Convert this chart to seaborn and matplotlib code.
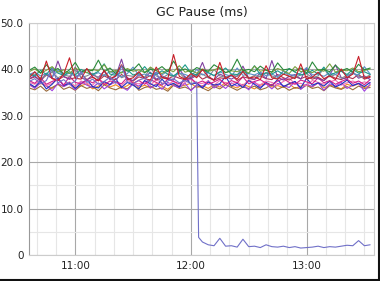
import numpy as np
import pandas as pd
import matplotlib
matplotlib.use("Agg")
import matplotlib.pyplot as plt
from matplotlib.ticker import FixedLocator, FuncFormatter, MultipleLocator
from matplotlib.lines import Line2D
import seaborn as sns

# ---- data -------------------------------------------------------------
title = "GC Pause (ms)"
# minutes after 10:00, one sample every 3 minutes (10:36 .. 13:33)
minutes = list(range(36, 214, 3))

s_red = [38.2, 39.5, 37.8, 41.8, 38.0, 37.6, 39.0, 42.5, 38.1, 37.9, 40.2, 38.4, 37.5, 39.8, 38.0, 38.6, 41.0, 37.8, 38.2, 39.5,
         38.0, 37.7, 40.5, 38.3, 38.0, 43.2, 38.5, 37.9, 39.1, 38.2, 40.0, 38.4, 37.6, 41.5, 38.0, 38.8, 37.9, 39.6, 38.1, 38.4,
         37.8, 40.8, 38.2, 37.9, 39.0, 38.5, 38.0, 41.2, 37.9, 38.3, 39.4, 38.0, 38.6, 37.8, 40.1, 38.2, 39.0, 42.8, 38.1, 38.5]
s_green = [39.8, 40.5, 39.2, 41.0, 39.6, 40.2, 39.0, 39.9, 41.5, 39.4, 40.0, 39.7, 42.0, 39.5, 40.3, 39.1, 40.8, 39.6, 39.9, 41.2,
           39.3, 40.0, 39.8, 40.6, 39.5, 41.8, 39.7, 40.1, 39.4, 40.4, 39.9, 39.6, 41.0, 40.2, 39.3, 39.8, 42.2, 39.7, 40.0, 39.5,
           40.7, 39.8, 39.4, 41.4, 39.9, 40.1, 39.6, 40.3, 39.2, 41.6, 39.8, 40.0, 39.5, 40.9, 39.7, 40.2, 39.4, 41.1, 39.9, 40.3]
s_teal = [39.0, 38.6, 39.8, 38.9, 40.4, 39.2, 38.7, 39.5, 38.8, 40.0, 39.3, 38.9, 39.6, 41.2, 39.0, 38.7, 39.4, 39.9, 38.8, 39.2,
          40.6, 39.1, 38.9, 39.7, 39.0, 38.6, 39.5, 41.0, 39.2, 38.8, 39.9, 39.3, 38.7, 39.4, 40.3, 39.0, 38.9, 39.6, 39.1, 40.8,
          38.8, 39.3, 39.0, 39.7, 38.9, 40.2, 39.4, 38.8, 39.1, 39.8, 39.0, 40.5, 38.7, 39.3, 39.6, 38.9, 40.0, 39.2, 39.5, 38.9]
s_blue = [37.0, 36.2, 37.5, 35.8, 36.8, 38.2, 36.5, 37.1, 35.9, 36.9, 37.8, 36.3, 36.0, 37.4, 36.7, 38.0, 36.1, 37.2, 36.6, 35.8,
          37.6, 36.9, 36.3, 37.9, 36.5, 37.0, 36.2, 38.4, 36.8, 37.1, 36.0, 37.3, 36.6, 36.9, 38.5, 36.4, 37.0, 36.1, 37.6, 36.8,
          35.9, 37.2, 36.5, 37.8, 36.3, 36.9, 37.4, 36.0, 38.1, 36.6, 37.1, 36.4, 37.5, 36.2, 36.8, 37.7, 36.5, 37.0, 36.3, 37.2]
s_purple = [38.0, 38.6, 37.5, 39.2, 38.1, 41.8, 38.4, 37.9, 40.5, 38.2, 37.7, 38.8, 38.3, 39.6, 37.8, 38.5, 42.2, 38.0, 37.6, 38.9,
            38.2, 39.4, 37.9, 38.6, 38.1, 37.7, 40.1, 38.3, 38.0, 38.7, 41.5, 38.2, 37.8, 39.0, 38.4, 37.9, 38.6, 40.7, 38.1, 37.8,
            39.3, 38.0, 41.9, 38.3, 37.7, 38.5, 38.9, 37.9, 40.2, 38.4, 38.0, 37.6, 38.8, 41.0, 38.2, 37.9, 39.5, 38.1, 38.6, 37.8]
s_magenta = [37.6, 37.0, 38.2, 36.8, 37.4, 37.9, 36.6, 38.5, 37.2, 36.9, 37.7, 37.1, 38.0, 36.7, 37.5, 37.3, 36.9, 38.3, 37.0, 37.6,
             36.8, 37.8, 37.2, 36.6, 37.9, 37.4, 36.9, 37.6, 38.1, 37.0, 37.5, 36.8, 37.3, 37.9, 36.7, 37.6, 37.1, 38.4, 36.9, 37.4,
             37.8, 37.0, 36.6, 37.5, 38.0, 37.2, 36.8, 37.7, 37.3, 36.9, 38.2, 37.1, 37.6, 36.8, 37.4, 37.9, 37.0, 37.5, 36.7, 37.8]
s_orange = [36.6, 36.2, 37.0, 36.4, 35.9, 36.8, 36.3, 37.2, 36.0, 36.5, 36.9, 35.8, 36.4, 37.1, 36.2, 36.7, 35.9, 36.5, 37.3, 36.1,
            36.6, 36.0, 36.9, 36.4, 35.7, 36.8, 36.3, 36.6, 37.0, 36.1, 36.5, 35.9, 36.7, 36.2, 37.2, 36.4, 36.0, 36.8, 36.3, 35.8,
            36.6, 37.0, 36.2, 36.5, 36.1, 36.9, 35.9, 36.4, 36.7, 36.2, 37.1, 36.0, 36.6, 36.3, 35.8, 36.8, 36.4, 36.9, 36.1, 36.5]
s_pink = [37.2, 36.8, 37.6, 36.5, 37.0, 37.9, 36.7, 37.3, 36.4, 37.5, 37.0, 36.6, 38.0, 37.1, 36.8, 37.4, 36.5, 37.7, 37.0, 36.9,
          37.3, 36.6, 37.8, 37.1, 36.7, 37.5, 36.4, 37.2, 37.9, 36.8, 37.0, 37.4, 36.6, 37.6, 37.1, 36.9, 37.3, 36.5, 37.8, 37.0,
          36.7, 37.5, 37.2, 36.6, 37.4, 38.1, 36.9, 37.0, 36.5, 37.6, 37.2, 36.8, 37.3, 37.7, 36.6, 37.1, 37.5, 36.9, 37.3, 37.0]
s_brown = [36.0, 35.6, 36.4, 35.3, 36.1, 36.8, 35.7, 36.2, 35.5, 36.5, 35.9, 36.3, 35.4, 36.7, 36.0, 35.6, 36.2, 35.8, 36.9, 35.5,
           36.1, 36.4, 35.7, 36.0, 35.3, 36.6, 35.9, 36.2, 35.6, 36.5, 36.0, 35.4, 36.3, 35.8, 36.7, 36.1, 35.5, 36.2, 35.9, 36.4,
           35.6, 36.0, 36.8, 35.7, 36.3, 35.5, 36.1, 35.8, 36.6, 35.9, 36.2, 35.4, 36.5, 36.0, 35.7, 36.3, 35.6, 36.4, 35.9, 36.1]
s_gray = [38.4, 39.0, 38.1, 38.7, 39.4, 38.2, 38.8, 38.5, 39.9, 38.3, 38.6, 39.2, 38.0, 38.9, 38.4, 39.6, 38.2, 38.7, 38.5, 39.1,
          38.3, 40.4, 38.6, 38.1, 38.9, 38.4, 39.3, 38.0, 38.8, 38.5, 39.0, 38.2, 40.0, 38.6, 38.3, 38.9, 38.5, 39.4, 38.1, 38.7,
          38.4, 39.2, 38.6, 38.0, 39.7, 38.5, 38.3, 38.8, 39.1, 38.2, 38.6, 40.2, 38.4, 38.9, 38.1, 38.7, 39.3, 38.5, 38.2, 38.8]
s_olive = [39.5, 40.1, 39.2, 39.8, 40.6, 39.4, 39.9, 39.1, 40.3, 39.6, 39.3, 40.0, 39.7, 41.0, 39.4, 39.8, 39.2, 40.2, 39.6, 39.9,
           39.3, 40.5, 39.7, 39.1, 40.0, 39.5, 40.8, 39.4, 39.8, 39.2, 40.1, 39.6, 39.9, 40.4, 39.3, 39.7, 39.5, 40.0, 39.2, 40.7,
           39.6, 39.9, 39.4, 40.2, 39.7, 39.1, 40.6, 39.5, 39.8, 39.3, 40.0, 39.6, 41.2, 39.4, 39.9, 39.7, 40.3, 39.5, 39.8, 40.1]
s_violet = [36.8, 35.9, 37.2, 36.5, 35.4, 37.0, 36.3, 36.9, 35.6, 37.4, 36.6, 36.1, 37.1, 35.8, 36.7, 37.3, 36.2, 35.5, 36.9, 36.4,
            37.5, 36.0, 36.8, 35.7, 37.2, 36.5, 36.1, 37.0, 35.4, 36.7, 36.3, 37.6, 36.0, 36.8, 35.9, 37.1, 36.4, 36.7, 35.6, 37.3,
            36.2, 36.9, 35.8, 37.0, 36.5, 36.1, 37.4, 35.7, 36.8, 36.3, 37.1, 35.5, 36.9, 36.4, 37.2, 35.9, 36.6, 37.0, 35.3, 36.8]
s_steel = [38.9, 39.4, 38.6, 39.1, 38.4, 39.8, 38.7, 39.2, 38.5, 39.0, 40.1, 38.8, 39.3, 38.6, 39.6, 38.9, 38.4, 39.1, 40.5, 38.7,
           39.0, 38.5, 39.4, 38.8, 39.7, 38.6, 39.2, 38.9, 38.4, 40.0, 38.8, 39.3, 38.6, 39.5, 38.9, 38.5, 40.3, 38.7, 39.1, 38.8,
           39.4, 38.6, 39.0, 38.4, 39.6, 38.9, 38.7, 39.2, 40.4, 38.8, 39.0, 38.5, 39.3, 38.9, 39.7, 38.6, 39.1, 38.8, 40.6, 39.0]
s_wine = [37.9, 38.4, 37.6, 38.8, 38.1, 37.7, 38.5, 37.9, 38.2, 39.1, 37.8, 38.3, 37.6, 38.6, 38.0, 37.8, 38.9, 38.1, 37.5, 38.4,
          38.0, 38.7, 37.7, 38.2, 37.9, 38.6, 38.1, 37.8, 38.3, 39.0, 37.9, 38.5, 37.7, 38.2, 38.0, 38.8, 37.6, 38.4, 38.1, 37.9,
          38.6, 38.0, 37.8, 38.9, 38.2, 37.7, 38.4, 38.0, 38.5, 37.9, 38.3, 37.6, 38.7, 38.1, 37.8, 38.4, 38.0, 38.9, 37.9, 38.3]

# the node whose GC pause collapsed just after 12:03
drop_minutes = minutes[:30] + [124] + minutes[30:]
drop_values = [37.4, 38.0, 36.9, 37.6, 40.2, 37.1, 37.8, 36.7, 37.5, 39.6, 37.2, 37.9, 36.8, 37.4, 38.3, 37.0, 40.8, 37.3, 36.9, 37.7,
               38.1, 37.2, 39.4, 36.8, 37.5, 38.0, 37.1, 37.6, 36.9, 37.3,
               3.8,
               2.8, 2.2, 2.0, 3.6, 1.9, 2.0, 1.7, 3.4, 1.8, 1.9, 1.6, 2.2, 1.8, 1.7, 1.9, 1.6, 1.8, 1.5, 1.6, 1.7,
               1.9, 1.6, 1.8, 1.7, 1.9, 2.1, 2.0, 3.1, 2.0, 2.2]

series = {
    "orange": s_orange, "brown": s_brown, "violet": s_violet, "pink": s_pink, "blue": s_blue,
    "magenta": s_magenta, "wine": s_wine, "purple": s_purple, "gray": s_gray, "steel": s_steel,
    "teal": s_teal, "olive": s_olive, "green": s_green, "red": s_red,
}
colors = {
    "orange": "#f08a24", "brown": "#9a6b3c", "violet": "#a040e0", "pink": "#f070b0", "blue": "#2030c0",
    "magenta": "#d0208a", "wine": "#b03050", "purple": "#8040a0", "gray": "#808890", "steel": "#5a8fc8",
    "teal": "#1a9a8a", "olive": "#7aa040", "green": "#2a8a3a", "red": "#c81e28", "drop": "#7070c8",
}

frames = [pd.DataFrame({"minute": minutes, "ms": v, "node": k}) for k, v in series.items()]
frames.append(pd.DataFrame({"minute": drop_minutes, "ms": drop_values, "node": "drop"}))
df = pd.concat(frames, ignore_index=True)

# ---- plot -------------------------------------------------------------
sns.set_style("white")
plt.rcParams["font.family"] = ["DejaVu Sans"]

fig = plt.figure(figsize=(3.8, 2.81), dpi=100)
ax = fig.add_axes([29 / 380, 26 / 281, 345 / 380, 232 / 281])

ax.xaxis.set_minor_locator(MultipleLocator(10))
ax.yaxis.set_minor_locator(MultipleLocator(5))
ax.grid(which="minor", color="#e6e6e6", linewidth=0.8)
ax.grid(which="major", color="#a8a8a8", linewidth=0.8)
ax.set_axisbelow(True)

sns.lineplot(data=df, x="minute", y="ms", hue="node", palette=colors,
             estimator=None, linewidth=0.8, legend=False, ax=ax)

ax.set_xlim(36, 215)
ax.set_ylim(0, 50)
ax.xaxis.set_major_locator(FixedLocator([60, 120, 180]))
ax.xaxis.set_major_formatter(FuncFormatter(lambda v, p: f"{int(v) // 60 + 10}:{int(v) % 60:02d}"))
ax.yaxis.set_major_locator(FixedLocator([0, 10, 20, 30, 40, 50]))
ax.yaxis.set_major_formatter(FuncFormatter(lambda v, p: "0" if v == 0 else f"{v:.1f}"))
ax.tick_params(axis="both", which="both", length=0, labelsize=7.5, colors="#222222", pad=4)
ax.set_xlabel("")
ax.set_ylabel("")
ax.set_title(title, fontsize=9, pad=5, color="#222222")
for s in ax.spines.values():
    s.set_color("#cccccc")
    s.set_linewidth(0.8)
ax.spines["left"].set_color("#999999")

# screenshot border at bottom and right
fig.add_artist(Line2D([0, 1], [0.003, 0.003], transform=fig.transFigure, color="#111111", linewidth=1.5))
fig.add_artist(Line2D([0.997, 0.997], [0, 1], transform=fig.transFigure, color="#111111", linewidth=1.5))

fig.savefig("out.png", dpi=100)
